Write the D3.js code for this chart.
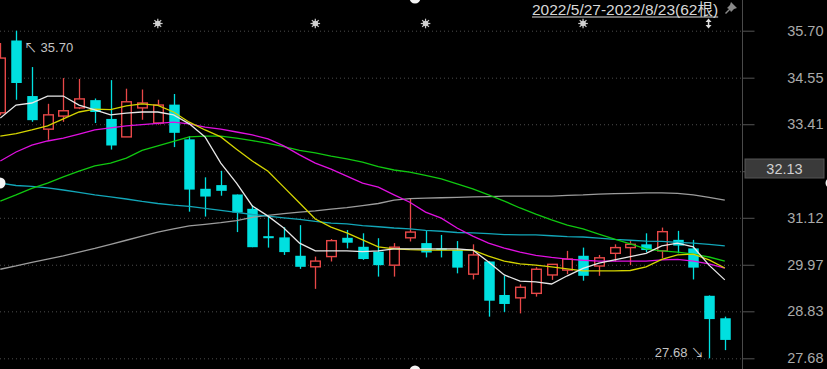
<!DOCTYPE html>
<html>
<head>
<meta charset="utf-8">
<script src="https://cdn.jsdelivr.net/npm/d3@7"></script>
<style>
body { margin: 0; background: #000; }
svg { display: block; }
</style>
</head>
<body>
<div id="chart-area"></div>
<script>
// candle data, one entry per trading day (visible part of the range)
var open  = [33.69,35.46,34.10,33.29,33.61,33.81,34.00,33.54,33.10,33.81,33.44,33.89,33.04,31.83,31.92,31.69,31.34,30.67,30.64,30.19,29.92,30.17,30.63,30.41,30.29,29.96,30.63,30.50,30.37,30.33,29.74,30.05,29.23,29.16,29.27,29.72,29.84,30.19,29.94,30.25,30.39,30.47,30.31,30.58,30.37,29.21,28.66];
var high  = [35.40,35.70,34.81,33.91,34.54,34.52,34.04,34.49,34.28,34.26,34.01,34.15,33.12,32.11,32.27,31.69,31.43,31.15,30.89,30.94,30.17,30.60,30.82,30.74,30.62,30.50,31.60,30.80,30.70,30.55,30.47,30.06,29.70,29.49,29.91,29.99,30.31,30.39,30.21,30.47,30.55,30.74,30.88,30.80,30.58,29.22,28.70];
var low   = [33.63,34.01,33.47,33.03,33.47,33.78,33.44,32.79,33.10,33.52,33.40,32.85,31.27,31.15,31.66,30.77,30.40,30.39,30.21,29.87,29.38,30.05,30.37,30.09,29.68,29.68,30.54,30.15,30.15,29.76,29.61,28.70,28.81,28.78,29.19,29.60,29.74,29.58,29.70,30.05,29.96,30.28,30.13,30.25,29.61,27.68,27.88];
var close = [35.03,34.42,33.51,33.64,33.74,34.03,33.71,32.89,33.96,33.93,33.88,33.20,31.81,31.64,31.78,31.25,30.40,30.62,30.28,29.92,30.06,30.56,30.51,30.11,29.96,30.40,30.77,30.27,30.35,29.90,30.21,29.09,29.01,29.42,29.86,29.98,30.11,29.70,30.14,30.39,30.47,30.33,30.78,30.44,29.90,28.64,28.13];

// moving averages
var ma5   = [33.56,33.88,33.93,34.10,34.10,33.88,33.76,33.64,33.68,33.71,33.71,33.64,33.42,33.10,32.46,31.97,31.41,31.16,30.87,30.50,30.31,30.31,30.31,30.29,30.31,30.36,30.36,30.36,30.36,30.36,30.33,30.04,29.72,29.57,29.55,29.50,29.70,29.88,30.01,30.09,30.17,30.25,30.43,30.50,30.41,29.96,29.60];
var ma10  = [33.12,33.18,33.27,33.37,33.54,33.71,33.78,33.77,33.86,33.91,33.87,33.71,33.46,33.27,33.10,32.80,32.51,32.26,31.87,31.48,31.09,30.89,30.75,30.58,30.41,30.36,30.34,30.33,30.33,30.33,30.33,30.18,30.06,29.99,29.96,29.92,29.87,29.82,29.82,29.82,29.83,29.92,30.10,30.21,30.23,30.09,29.89];
var ma20  = [32.51,32.73,32.90,33.00,33.07,33.17,33.27,33.32,33.37,33.40,33.43,33.46,33.42,33.34,33.29,33.22,33.15,33.05,32.88,32.66,32.46,32.31,32.14,31.97,31.87,31.68,31.50,31.26,31.11,30.87,30.67,30.50,30.38,30.28,30.20,30.15,30.11,30.08,30.06,30.06,30.06,30.06,30.09,30.10,30.06,29.99,29.89];
var ma30  = [31.53,31.68,31.84,31.97,32.12,32.26,32.39,32.46,32.58,32.77,32.88,32.99,33.10,33.12,33.12,33.07,33.01,32.94,32.86,32.77,32.71,32.63,32.56,32.48,32.37,32.29,32.24,32.16,32.07,31.95,31.83,31.68,31.53,31.36,31.21,31.07,30.94,30.85,30.72,30.60,30.48,30.36,30.31,30.28,30.23,30.16,30.06];
var ma60  = [31.97,31.91,31.89,31.85,31.80,31.74,31.68,31.63,31.58,31.52,31.47,31.43,31.40,31.35,31.30,31.25,31.20,31.16,31.12,31.08,31.03,30.99,30.97,30.93,30.90,30.87,30.85,30.81,30.79,30.76,30.75,30.73,30.71,30.70,30.70,30.68,30.66,30.65,30.62,30.59,30.57,30.55,30.54,30.52,30.50,30.47,30.43];
var ma120 = [29.86,29.94,30.03,30.11,30.19,30.28,30.37,30.47,30.57,30.67,30.77,30.85,30.92,30.96,31.00,31.05,31.13,31.18,31.22,31.26,31.29,31.33,31.37,31.42,31.47,31.55,31.59,31.60,31.61,31.62,31.63,31.64,31.65,31.65,31.65,31.65,31.67,31.68,31.70,31.71,31.72,31.73,31.73,31.72,31.68,31.62,31.55];

var yTicks = [27.68, 28.83, 29.97, 31.12, 32.26, 33.41, 34.55, 35.70];
var cursorPrice = "32.13";
var rangeTitle = "2022/5/27-2022/8/23(62根)";
var maxLabel = "35.70", minLabel = "27.68";
var markerDays = [10, 20, 27, 37];

var width = 827;
var height = 369;
var plotRight = 742.5;
var font = "'Liberation Sans', Arial, 'Noto Sans CJK SC', sans-serif";

var svg = d3.select("#chart-area")
    .append("svg")
    .attr("width", width)
    .attr("height", height)
    .style("background", "#000");

var x = d3.scaleLinear().domain([0, open.length - 1]).range([0.3, 724.8]);
var y = d3.scaleLinear().domain([27.68, 35.70]).range([358.3, 30.7]);

// dotted grid
var grid = svg.append("g")
    .call(d3.axisLeft(y).tickValues(yTicks).tickSize(-plotRight).tickFormat(""));
grid.select(".domain").remove();
grid.selectAll("line")
    .attr("stroke", "#4c4c4c")
    .attr("stroke-dasharray", "1,3");

// price axis on the right (the 32.26 label sits under the cursor box)
var fmt = d3.format(".2f");
var yAxis = svg.append("g")
    .attr("transform", "translate(" + plotRight + ",0)")
    .call(d3.axisRight(y).tickValues(yTicks).tickSize(12)
        .tickFormat(function(d) { return d === 32.26 ? "" : fmt(d); }));
yAxis.select(".domain").remove();
yAxis.append("line")
    .attr("y1", 0).attr("y2", height)
    .attr("stroke", "#4a4a4a");
yAxis.selectAll(".tick line").attr("stroke", "#555");
yAxis.selectAll(".tick text")
    .attr("x", 81)
    .attr("text-anchor", "end")
    .attr("font-family", font)
    .attr("font-size", "14.5px")
    .attr("fill", "#aaaaaa");

// candles
var candles = svg.append("g");
open.forEach(function(o, i) {
    var c = close[i];
    var up = c >= o;
    var col = up ? "#e84848" : "#00e0e0";
    var cx = Math.round(x(i)) + 0.5;
    var top = y(Math.max(o, c)), bot = y(Math.min(o, c));
    var h = Math.max(1.5, bot - top);
    if (up) {
        candles.append("line").attr("x1", cx).attr("x2", cx)
            .attr("y1", y(high[i])).attr("y2", top).attr("stroke", col).attr("stroke-width", 1.3);
        candles.append("line").attr("x1", cx).attr("x2", cx)
            .attr("y1", bot).attr("y2", y(low[i])).attr("stroke", col).attr("stroke-width", 1.3);
        candles.append("rect")
            .attr("x", cx - 4.8).attr("y", top)
            .attr("width", 9.6).attr("height", h)
            .attr("fill", "#000").attr("stroke", col).attr("stroke-width", 1.4);
    } else {
        candles.append("line").attr("x1", cx).attr("x2", cx)
            .attr("y1", y(high[i])).attr("y2", y(low[i])).attr("stroke", col).attr("stroke-width", 1.3);
        candles.append("rect")
            .attr("x", cx - 5.25).attr("y", top)
            .attr("width", 10.5).attr("height", h)
            .attr("fill", col);
    }
});

// moving average lines
var line = d3.line().x(function(d, i) { return x(i); }).y(function(d) { return y(d); });
var maSeries = [
    {v: ma120, c: "#9c9c9c"},
    {v: ma60, c: "#12a6b8"},
    {v: ma30, c: "#10c810"},
    {v: ma20, c: "#e010e0"},
    {v: ma10, c: "#d4d400"},
    {v: ma5, c: "#e8e8e8"}
];
maSeries.forEach(function(s) {
    svg.append("path")
        .datum(s.v)
        .attr("d", line)
        .attr("fill", "none")
        .attr("stroke", s.c)
        .attr("stroke-width", 1.3);
});

// high / low labels
svg.append("text").attr("x", 24).attr("y", 52)
    .attr("font-family", font).attr("font-size", "13px").attr("fill", "#c4c4c4")
    .text("\u2196 " + maxLabel);
svg.append("text").attr("x", 704).attr("y", 357)
    .attr("text-anchor", "end")
    .attr("font-family", font).attr("font-size", "13px").attr("fill", "#c4c4c4")
    .text(minLabel + " \u2198");

// cursor price box
svg.append("rect").attr("x", 745).attr("y", 159).attr("width", 79).attr("height", 19)
    .attr("fill", "#3a3a3a").attr("stroke", "#555");
svg.append("text").attr("x", 784.5).attr("y", 174)
    .attr("text-anchor", "middle")
    .attr("font-family", font).attr("font-size", "14.5px").attr("fill", "#d0d0d0")
    .text(cursorPrice);

// title of the range
var title = svg.append("text").attr("x", 532).attr("y", 15)
    .attr("font-family", font).attr("font-size", "15.5px").attr("fill", "#d8d8d8")
    .text(rangeTitle);
var tw = title.node().getComputedTextLength();
svg.append("line").attr("x1", 532).attr("x2", 532 + tw).attr("y1", 17).attr("y2", 17)
    .attr("stroke", "#d8d8d8");

// pin icon
svg.append("path")
    .attr("d", "M731,2 L737,8 L734,9 L731,12 L730,10 L726,14 L725,13 L729,9 L727,8 L730,5 Z")
    .attr("fill", "#8a8a8a");

// event markers above the candles
markerDays.forEach(function(d) {
    var g = svg.append("g").attr("transform", "translate(" + x(d) + ",23.5)");
    d3.range(8).forEach(function(k) {
        var a = k * Math.PI / 4;
        g.append("line").attr("x1", 0).attr("y1", 0)
            .attr("x2", 4.8 * Math.cos(a)).attr("y2", 4.8 * Math.sin(a))
            .attr("stroke", "#c8c8c8").attr("stroke-width", 1.2);
    });
    g.append("circle").attr("r", 2.8).attr("fill", "#d0d0d0");
});
var ud = svg.append("g").attr("transform", "translate(" + (x(45) - 0.5) + ",23.5)");
ud.append("path").attr("d", "M0,-5 L3,-1.5 L-3,-1.5 Z M0,5 L3,1.5 L-3,1.5 Z").attr("fill", "#dcdcdc");
ud.append("line").attr("y1", -3).attr("y2", 3).attr("stroke", "#dcdcdc").attr("stroke-width", 1.5);

// crosshair end markers
[[0, 183], [831, 183], [415, -2], [415, 371]].forEach(function(p) {
    svg.append("circle").attr("cx", p[0]).attr("cy", p[1]).attr("r", 5.5).attr("fill", "#f4f4f4");
});
</script>
</body>
</html>
